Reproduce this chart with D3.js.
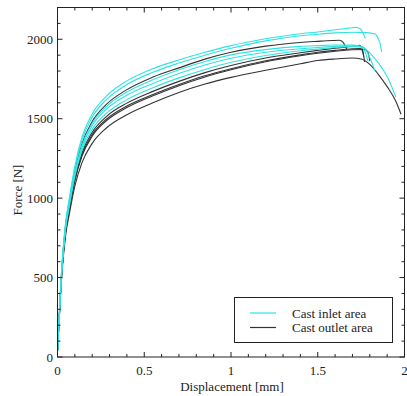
<!DOCTYPE html>
<html><head><meta charset="utf-8">
<script src="https://cdn.jsdelivr.net/npm/d3@7"></script>
<style>body{margin:0;background:#fff}svg{display:block}text{font-family:"Liberation Serif","Times New Roman",serif;fill:#222}</style>
</head><body>
<script>
// ---- data ----
const xGrid = [0, 0.02, 0.045, 0.07, 0.1, 0.14, 0.2, 0.28, 0.4, 0.55, 0.7, 0.85, 1.0, 1.2, 1.4, 1.5];
const inletCurves = [
  { f: [40,480,830,1010,1200,1380,1530,1640,1738,1815,1870,1918,1960,2003,2035,2046], tx: [1.6,1.68,1.72,1.745,1.76,1.775], tf: [2060,2070,2075,2066,2040,2005] },
  { f: [40,475,820,1000,1188,1362,1510,1618,1715,1792,1850,1900,1943,1990,2022,2032], tx: [1.6,1.7,1.78,1.83,1.85,1.862,1.868], tf: [2040,2044,2042,2033,2000,1960,1920] },
  { f: [40,468,805,978,1160,1328,1470,1575,1668,1745,1808,1860,1902,1935,1955,1960], tx: [1.6,1.7,1.76,1.8,1.85,1.9,1.95], tf: [1964,1963,1950,1915,1850,1765,1637] },
  { f: [40,465,798,970,1150,1315,1455,1558,1648,1722,1785,1838,1880,1918,1940,1948], tx: [1.6,1.7,1.76,1.8,1.83], tf: [1955,1958,1952,1885,1800] },
  { f: [40,462,790,960,1138,1298,1433,1532,1620,1695,1757,1810,1855,1898,1928,1938], tx: [1.6,1.7,1.75,1.775,1.79], tf: [1948,1955,1950,1915,1860] }
];
const outletCurves = [
  { f: [40,470,810,985,1168,1338,1482,1588,1683,1762,1820,1875,1918,1957,1980,1987], tx: [1.58,1.625,1.645,1.66,1.668], tf: [1992,1994,1982,1955,1935] },
  { f: [40,458,782,950,1125,1282,1415,1512,1598,1672,1735,1790,1835,1882,1915,1930], tx: [1.6,1.7,1.74,1.755,1.765], tf: [1944,1956,1962,1945,1890] },
  { f: [40,455,776,943,1115,1270,1400,1495,1580,1652,1715,1770,1815,1865,1902,1918], tx: [1.6,1.7,1.745,1.76,1.77], tf: [1930,1940,1942,1920,1858] },
  { f: [40,453,772,938,1108,1262,1390,1485,1570,1644,1708,1763,1808,1858,1896,1912], tx: [1.6,1.7,1.77,1.79,1.8], tf: [1925,1934,1936,1915,1862] },
  { f: [40,440,750,910,1075,1220,1345,1440,1525,1600,1665,1718,1760,1805,1846,1866], tx: [1.6,1.7,1.75,1.8,1.85,1.9,1.95,1.98], tf: [1876,1882,1876,1842,1778,1702,1610,1528] }
];
const seriesNames = ["Cast inlet area", "Cast outlet area"];
const seriesColors = ["#2fe3e3", "#333333"];
const xTicks = [0, 0.5, 1, 1.5, 2];
const xTickLabels = ["0", "0.5", "1", "1.5", "2"];
const yTicks = [0, 500, 1000, 1500, 2000];
const yTickLabels = ["0", "500", "1000", "1500", "2000"];

// ---- chart ----
const W = 407, H = 396;
const L = 57.5, R = 404.5, T = 7.5, B = 357;
const x = d3.scaleLinear().domain([0, 2]).range([L, R]);
const y = d3.scaleLinear().domain([0, 2200]).range([B, T]);
const svg = d3.select("body").append("svg").attr("width", W).attr("height", H);

const line = d3.line().x(d => x(d[0])).y(d => y(d[1])).curve(d3.curveMonotoneX);
const toPts = c => xGrid.map((v, i) => [v, c.f[i]]).concat(c.tx.map((v, i) => [v, c.tf[i]]));

const g = svg.append("g");
[outletCurves, inletCurves].forEach((set, k) => {
  const col = k === 0 ? seriesColors[1] : seriesColors[0];
  set.forEach(c => g.append("path").attr("d", line(toPts(c))).attr("fill", "none")
    .attr("stroke", col).attr("stroke-width", 1.1));
});

// axes (ticks inward, mirrored)
const xMinor = d3.range(0, 2.0001, 0.1);
const yMinor = d3.range(0, 2200.1, 100);
const ax = svg.append("g").attr("stroke", "#222").attr("stroke-width", 1);
ax.append("rect").attr("x", L).attr("y", T).attr("width", R - L).attr("height", B - T).attr("fill", "none");
xMinor.forEach(v => {
  const major = Math.abs(v * 2 - Math.round(v * 2)) < 1e-6;
  const len = major ? 5 : 3;
  ax.append("line").attr("x1", x(v)).attr("x2", x(v)).attr("y1", B).attr("y2", B - len);
  ax.append("line").attr("x1", x(v)).attr("x2", x(v)).attr("y1", T).attr("y2", T + len);
});
yMinor.forEach(v => {
  const major = Math.round(v) % 500 === 0;
  const len = major ? 5 : 3;
  ax.append("line").attr("x1", L).attr("x2", L + len).attr("y1", y(v)).attr("y2", y(v));
  ax.append("line").attr("x1", R).attr("x2", R - len).attr("y1", y(v)).attr("y2", y(v));
});

svg.append("g").selectAll("text").data(xTicks).join("text")
  .attr("x", d => x(d)).attr("y", 375).attr("text-anchor", "middle").attr("font-size", 13)
  .text((d, i) => xTickLabels[i]);
svg.append("g").selectAll("text").data(yTicks).join("text")
  .attr("x", 53).attr("y", d => y(d) + 4.5).attr("text-anchor", "end").attr("font-size", 13)
  .text((d, i) => yTickLabels[i]);

svg.append("text").attr("x", 232).attr("y", 391).attr("text-anchor", "middle").attr("font-size", 13)
  .text("Displacement [mm]");
svg.append("text").attr("transform", "translate(22,190) rotate(-90)").attr("text-anchor", "middle")
  .attr("font-size", 13).text("Force [N]");

// legend
const lg = svg.append("g");
lg.append("rect").attr("x", 234.5).attr("y", 297.5).attr("width", 158).attr("height", 45)
  .attr("fill", "#fff").attr("stroke", "#222").attr("stroke-width", 1);
seriesNames.forEach((n, i) => {
  const yy = 313 + i * 14.5;
  lg.append("line").attr("x1", 250).attr("x2", 276).attr("y1", yy).attr("y2", yy)
    .attr("stroke", seriesColors[i]).attr("stroke-width", 1.2);
  lg.append("text").attr("x", 292).attr("y", yy + 4.5).attr("font-size", 13).text(n);
});
</script>
</body></html>
